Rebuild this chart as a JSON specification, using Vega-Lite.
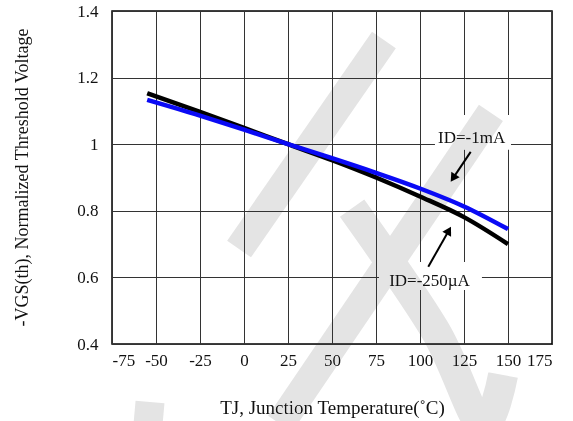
{
  "$schema": "https://vega.github.io/schema/vega-lite/v6.json",
  "width": 440,
  "height": 333,
  "autosize": "none",
  "padding": {"left": 112, "top": 11, "right": 21, "bottom": 77},
  "background": "white",
  "config": {
    "view": {"stroke": "#000", "strokeWidth": 1.5},
    "font": "Liberation Serif"
  },
  "datasets": {
    "curves": [
      {"t": -55, "v": 1.153, "s": "a250uA"},
      {"t": -25, "v": 1.097, "s": "a250uA"},
      {"t": 0, "v": 1.049, "s": "a250uA"},
      {"t": 25, "v": 1.0, "s": "a250uA"},
      {"t": 50, "v": 0.952, "s": "a250uA"},
      {"t": 75, "v": 0.9, "s": "a250uA"},
      {"t": 100, "v": 0.843, "s": "a250uA"},
      {"t": 125, "v": 0.781, "s": "a250uA"},
      {"t": 150, "v": 0.7, "s": "a250uA"},
      {"t": -55, "v": 1.133, "s": "b1mA"},
      {"t": -25, "v": 1.086, "s": "b1mA"},
      {"t": 0, "v": 1.044, "s": "b1mA"},
      {"t": 25, "v": 1.0, "s": "b1mA"},
      {"t": 50, "v": 0.958, "s": "b1mA"},
      {"t": 75, "v": 0.914, "s": "b1mA"},
      {"t": 100, "v": 0.867, "s": "b1mA"},
      {"t": 125, "v": 0.813, "s": "b1mA"},
      {"t": 150, "v": 0.745, "s": "b1mA"}
    ],
    "boxes": [
      {"t": 108.5, "t2": 151.7, "v": 1.088, "v2": 0.983},
      {"t": 76.7, "t2": 135.2, "v": 0.646, "v2": 0.562}
    ],
    "labels": [
      {"t": 129.3, "v": 1.02, "label": "ID=-1mA"},
      {"t": 105.4, "v": 0.588, "label": "ID=-250µA"}
    ],
    "shafts": [
      {"t": 128.8, "v": 0.977, "t2": 118.8, "v2": 0.898},
      {"t": 104.7, "v": 0.632, "t2": 116.4, "v2": 0.741}
    ],
    "heads": [
      {"t": 118.8, "v": 0.898, "ang": 213.7},
      {"t": 116.4, "v": 0.741, "ang": 29.6}
    ],
    "mark1": [
      {"t": 79.5, "v": 1.313, "p": "A"},
      {"t": -2.8, "v": 0.685, "p": "A"},
      {"t": -53.4, "v": 0.226, "p": "B"},
      {"t": -54.5, "v": 0.16, "p": "B"},
      {"t": 140.3, "v": 1.094, "p": "C"},
      {"t": 20.5, "v": 0.16, "p": "C"}
    ],
    "mark2": [
      {"t": 61.4, "v": 0.808},
      {"t": 108.5, "v": 0.442},
      {"t": 147.2, "v": 0.307},
      {"t": 134.7, "v": 0.16}
    ]
  },
  "layer": [
    {
      "data": {"name": "boxes"},
      "mark": {"type": "rect", "color": "white"},
      "encoding": {
        "x": {
          "field": "t", "type": "quantitative",
          "scale": {"domain": [-75, 175], "nice": false, "zero": false},
          "axis": {
            "title": "TJ, Junction Temperature(˚C)",
            "values": [-75, -50, -25, 0, 25, 50, 75, 100, 125, 150, 175],
            "labelExpr": "'' + datum.value",
            "grid": true, "gridColor": "#333", "gridWidth": 1, "gridOpacity": 1,
            "domain": false, "ticks": false,
            "labelFontSize": 17, "labelColor": "#111", "labelPadding": 8,
            "labelFont": "Liberation Serif",
            "titleFont": "Liberation Serif", "titleFontSize": 19, "titleFontWeight": "normal",
            "titleColor": "#111", "titleX": 220, "titleY": 63, "titleBaseline": "middle"
          }
        },
        "x2": {"field": "t2"},
        "y": {
          "field": "v", "type": "quantitative",
          "scale": {"domain": [0.4, 1.4], "nice": false, "zero": false},
          "axis": {
            "title": "-VGS(th), Normalized Threshold Voltage",
            "values": [0.4, 0.6, 0.8, 1.0, 1.2, 1.4],
            "labelExpr": "'' + datum.value",
            "grid": true, "gridColor": "#333", "gridWidth": 1, "gridOpacity": 1,
            "domain": false, "ticks": false,
            "labelFontSize": 17, "labelColor": "#111", "labelPadding": 14,
            "labelFont": "Liberation Serif",
            "titleFont": "Liberation Serif", "titleFontSize": 18, "titleFontWeight": "normal",
            "titleColor": "#111", "titleX": -90, "titleY": 166, "titleAngle": -90,
            "titleBaseline": "middle", "titleAlign": "center"
          }
        },
        "y2": {"field": "v2"}
      }
    },
    {
      "data": {"name": "mark1"},
      "mark": {"type": "line", "color": "#e4e4e4", "strokeWidth": 29, "strokeCap": "butt", "blend": "darken"},
      "encoding": {
        "x": {"field": "t", "type": "quantitative"},
        "y": {"field": "v", "type": "quantitative"},
        "detail": {"field": "p"}
      }
    },
    {
      "data": {"name": "mark2"},
      "mark": {"type": "line", "color": "#e4e4e4", "strokeWidth": 30, "strokeCap": "butt", "interpolate": "cardinal", "blend": "darken"},
      "encoding": {
        "x": {"field": "t", "type": "quantitative"},
        "y": {"field": "v", "type": "quantitative"},
        "order": {"value": 0}
      }
    },
    {
      "data": {"name": "labels"},
      "mark": {"type": "text", "font": "Liberation Serif", "fontSize": 17, "color": "#111", "baseline": "middle", "align": "center"},
      "encoding": {
        "x": {"field": "t", "type": "quantitative"},
        "y": {"field": "v", "type": "quantitative"},
        "text": {"field": "label"}
      }
    },
    {
      "data": {"name": "curves"},
      "mark": {"type": "line", "strokeWidth": 4.5, "interpolate": "monotone"},
      "encoding": {
        "x": {"field": "t", "type": "quantitative"},
        "y": {"field": "v", "type": "quantitative"},
        "color": {"field": "s", "type": "nominal", "scale": {"domain": ["a250uA", "b1mA"], "range": ["#000000", "#0a0af5"]}, "legend": null}
      }
    },
    {
      "data": {"name": "shafts"},
      "mark": {"type": "rule", "color": "#000", "strokeWidth": 2},
      "encoding": {
        "x": {"field": "t", "type": "quantitative"},
        "y": {"field": "v", "type": "quantitative"},
        "x2": {"field": "t2"},
        "y2": {"field": "v2"}
      }
    },
    {
      "data": {"name": "heads"},
      "mark": {"type": "point", "shape": "triangle-up", "filled": true, "color": "#000", "size": 100, "opacity": 1},
      "encoding": {
        "x": {"field": "t", "type": "quantitative"},
        "y": {"field": "v", "type": "quantitative"},
        "angle": {"field": "ang", "type": "quantitative", "scale": null}
      }
    }
  ]
}
